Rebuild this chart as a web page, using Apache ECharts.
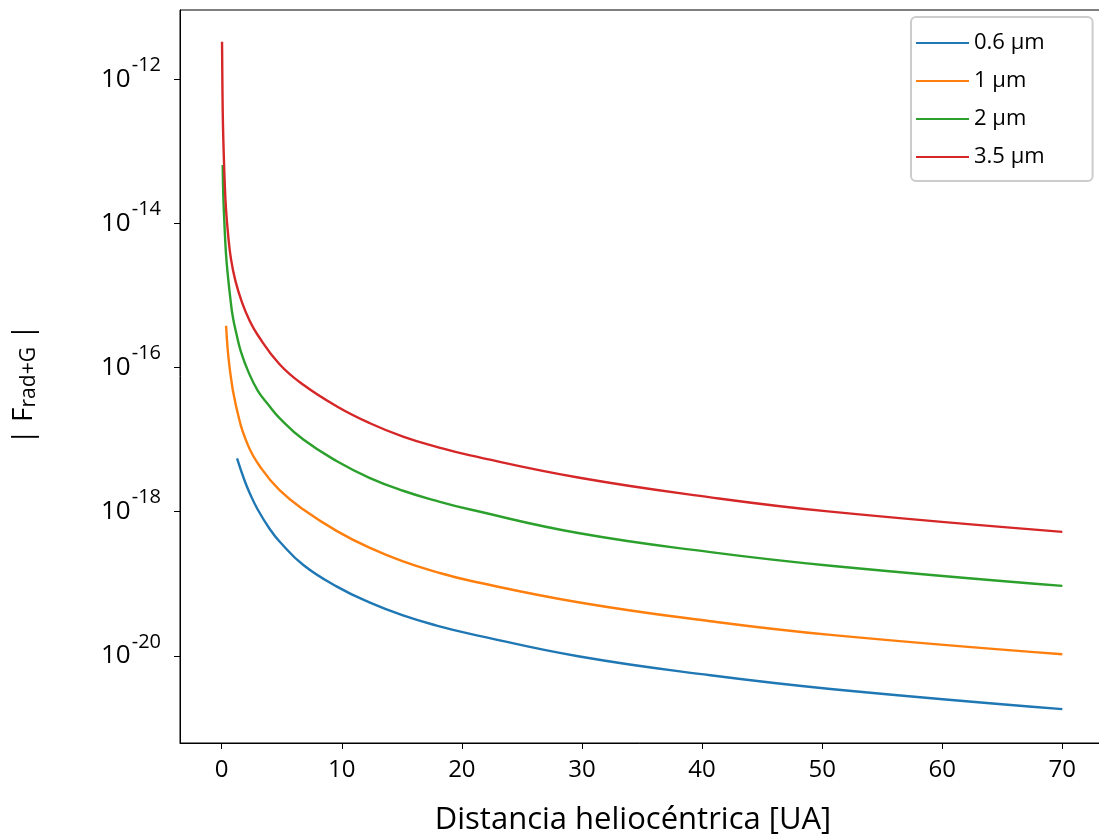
<!DOCTYPE html>
<html>
<head>
<meta charset="utf-8">
<script src="https://cdn.jsdelivr.net/npm/echarts@6/dist/echarts.min.js"></script>
<style>
  html, body { margin: 0; padding: 0; background: #ffffff; }
  #chart { width: 1099px; height: 838px; }
</style>
</head>
<body>
<div id="chart"></div>
<script>
// Grain sizes shown in the legend and their line colours
const sizeLabels = ['0.6 µm', '1 µm', '2 µm', '3.5 µm'];
const sizeColors = ['#1f77b4', '#ff7f0e', '#2ca02c', '#d62728'];

// Heliocentric distance [UA] and |F_rad+G| for each grain size
const dist06 = [1.28, 1.89, 2.33, 3.0, 4.0, 4.8, 6.8, 9.6, 12.3, 15.1, 17.9, 20.7, 29.8, 40.7, 50.7, 70];
const force06 = [5.50e-18, 2.75e-18, 1.82e-18, 1.07e-18, 5.75e-19, 3.89e-19, 1.82e-19, 9.12e-20,
                 5.50e-20, 3.63e-20, 2.63e-20, 2.02e-20, 9.77e-21, 5.37e-21, 3.47e-21, 1.82e-21];

const dist1 = [0.37, 0.64, 1.19, 2.17, 3.3, 4.8, 6.8, 9.6, 12.3, 15.1, 17.9, 20.7, 29.8, 40.7, 50.7, 70];
const force1 = [3.80e-16, 1.07e-16, 2.95e-17, 8.51e-18, 3.98e-18, 2.00e-18, 1.07e-18, 5.37e-19,
                3.16e-19, 2.04e-19, 1.45e-19, 1.10e-19, 5.50e-20, 3.02e-20, 1.95e-20, 1.05e-20];

const dist2 = [0.085, 0.14, 0.22, 0.35, 0.5, 0.7, 0.92, 1.25, 1.6, 2.2, 3.0, 3.9, 4.8, 6.8, 9.6,
               12.3, 15.1, 17.9, 20.7, 29.8, 40.7, 50.7, 70];
const force2 = [6.46e-14, 2.29e-14, 1.07e-14, 3.98e-15, 2.00e-15, 9.77e-16, 5.13e-16, 2.82e-16, 1.66e-16,
                8.91e-17, 4.79e-17, 3.02e-17, 2.00e-17, 1.00e-17, 5.01e-18,
                2.95e-18, 1.95e-18, 1.41e-18, 1.07e-18, 5.01e-19, 2.75e-19, 1.78e-19, 9.33e-20];

const dist35 = [0.03, 0.07, 0.11, 0.17, 0.25, 0.36, 0.55, 0.78, 1.15, 1.7, 2.3, 3.0, 4.8, 6.8, 9.6,
                12.3, 15.1, 17.9, 20.7, 29.8, 40.7, 50.7, 70];
const force35 = [3.31e-12, 6.03e-13, 2.24e-13, 9.55e-14, 3.80e-14, 1.58e-14, 6.61e-15, 3.16e-15, 1.58e-15,
                 7.94e-16, 4.57e-16, 2.82e-16, 1.12e-16, 5.75e-17, 2.88e-17,
                 1.70e-17, 1.10e-17, 7.94e-18, 6.03e-18, 2.95e-18, 1.58e-18, 1.00e-18, 5.25e-19];

// Axis ticks
const xTicks = [0, 10, 20, 30, 40, 50, 60, 70];
const yTicks = [1e-20, 1e-18, 1e-16, 1e-14, 1e-12];

const FONT = '"Open Sans", "Noto Sans", sans-serif';

function pairs(xs, ys) {
  return xs.map((x, i) => [x, ys[i]]);
}

const seriesData = [
  pairs(dist06, force06),
  pairs(dist1, force1),
  pairs(dist2, force2),
  pairs(dist35, force35)
];

const chart = echarts.init(document.getElementById('chart'), null, { renderer: 'canvas' });

chart.setOption({
  animation: false,
  backgroundColor: '#ffffff',
  textStyle: { fontFamily: FONT },
  grid: {
    left: 180, top: 10, right: -5, bottom: 95,
    containLabel: false,
    outerBoundsMode: 'none',
    show: true, borderColor: '#000000', borderWidth: 1, backgroundColor: 'transparent'
  },
  legend: {
    orient: 'vertical',
    left: 911, top: 17,
    padding: [15, 48, 13, 5],
    itemGap: 16,
    itemWidth: 53, itemHeight: 2,
    itemTextGap: 6,
    icon: 'rect',
    backgroundColor: '#ffffff',
    borderColor: '#cccccc', borderWidth: 2, borderRadius: 5,
    textStyle: { fontFamily: FONT, fontSize: 22, color: '#000000', lineHeight: 22 },
    data: sizeLabels
  },
  xAxis: {
    type: 'value',
    min: -3.47, max: 73.47,
    name: 'Distancia heliocéntrica [UA]',
    nameLocation: 'middle',
    nameGap: 62,
    nameTextStyle: { fontFamily: FONT, fontSize: 31, color: '#000000', padding: [0, 18, 0, 0] },
    axisLine: { show: true, onZero: false, lineStyle: { color: '#000000', width: 1 } },
    axisTick: { show: true, inside: false, length: 6, customValues: xTicks, lineStyle: { color: '#000000' } },
    axisLabel: { customValues: xTicks, fontSize: 24, color: '#000000', margin: 15, fontFamily: FONT },
    splitLine: { show: false }
  },
  yAxis: {
    type: 'log',
    logBase: 10,
    min: 6.17e-22, max: 9.12e-12,
    name: '| F{sub|rad+G} |',
    nameLocation: 'middle',
    nameRotate: 90,
    nameGap: 140,
    nameTextStyle: {
      fontFamily: FONT, fontSize: 28, color: '#000000',
      padding: [0, 16, 0, 0],
      rich: { sub: { fontFamily: FONT, fontSize: 21, color: '#000000', padding: [10, 0, 0, 0] } }
    },
    axisLine: { show: true, onZero: false, lineStyle: { color: '#000000', width: 1 } },
    axisTick: { show: true, inside: false, length: 6, customValues: yTicks, lineStyle: { color: '#000000' } },
    axisLabel: {
      customValues: yTicks,
      margin: 19,
      formatter: function (v) {
        const e = Math.round(Math.log10(v));
        return '{b|10}{s|' + (e < 0 ? '-' + (-e) : e) + '}';
      },
      rich: {
        b: { fontFamily: FONT, fontSize: 26, color: '#000000', padding: [11, 0, 11, 0] },
        s: { fontFamily: FONT, fontSize: 20, color: '#000000', padding: [0, 0, 28, 1] }
      }
    },
    splitLine: { show: false }
  },
  series: sizeLabels.map((name, i) => ({
    name: name,
    type: 'line',
    data: seriesData[i],
    showSymbol: false,
    smooth: 0.45,
    clip: true,
    lineStyle: { color: sizeColors[i], width: 2.4 },
    itemStyle: { color: sizeColors[i] }
  }))
});
</script>
</body>
</html>
